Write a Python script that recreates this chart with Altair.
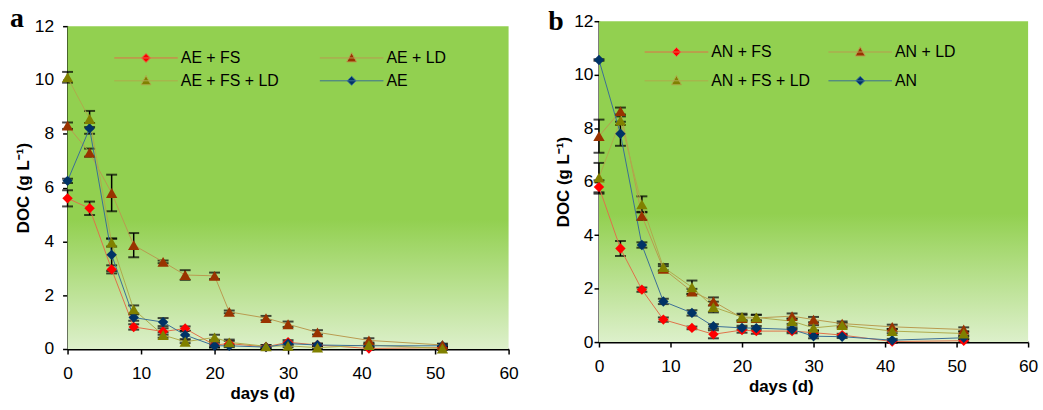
import altair as alt
import pandas as pd

days = [0, 3, 6, 9, 13, 16, 20, 22, 27, 30, 34, 41, 51]

# Panel a (aerobic)
ae_fs = [5.6, 5.23, 2.96, 0.82, 0.65, 0.76, 0.15, 0.2, 0.08, 0.25, 0.15, 0.02, 0.05]
ae_fs_err = [0.3, 0.25, 0.15, 0.1, 0.12, 0.08, 0.1, 0.1, 0.05, 0.08, 0.05, 0.05, 0.05]
ae_ld = [8.3, 7.3, 5.8, 3.86, 3.24, 2.75, 2.72, 1.38, 1.15, 0.92, 0.62, 0.32, 0.15]
ae_ld_err = [0.12, 0.15, 0.68, 0.45, 0.05, 0.18, 0.12, 0.05, 0.08, 0.1, 0.08, 0.08, 0.05]
ae_fs_ld = [10.1, 8.55, 3.96, 1.47, 0.52, 0.27, 0.43, 0.25, 0.1, 0.12, 0.05, 0.15, 0.02]
ae_fs_ld_err = [0.2, 0.3, 0.15, 0.15, 0.1, 0.05, 0.1, 0.1, 0.05, 0.05, 0.05, 0.05, 0.05]
ae = [6.25, 8.2, 3.5, 1.17, 1.0, 0.52, 0.12, 0.12, 0.07, 0.2, 0.15, 0.12, 0.12]
ae_err = [0.08, 0.2, 0.6, 0.12, 0.15, 0.15, 0.05, 0.05, 0.05, 0.05, 0.05, 0.05, 0.05]

# Panel b (anaerobic)
an_fs = [5.8, 3.5, 1.96, 0.84, 0.53, 0.29, 0.45, 0.41, 0.41, 0.35, 0.26, 0.02, 0.05]
an_fs_err = [0.25, 0.28, 0.08, 0.08, 0.05, 0.15, 0.1, 0.1, 0.08, 0.08, 0.05, 0.05, 0.05]
an_ld = [7.7, 8.64, 4.72, 2.74, 1.89, 1.52, 0.9, 0.9, 0.97, 0.84, 0.69, 0.57, 0.47]
an_ld_err = [0.62, 0.13, 0.15, 0.1, 0.1, 0.15, 0.12, 0.12, 0.1, 0.1, 0.08, 0.08, 0.08]
an_fs_ld = [6.15, 8.28, 5.15, 2.8, 2.05, 1.31, 0.94, 0.92, 0.78, 0.53, 0.63, 0.41, 0.32]
an_fs_ld_err = [0.55, 0.16, 0.3, 0.12, 0.25, 0.2, 0.12, 0.1, 0.1, 0.1, 0.08, 0.08, 0.08]
an = [10.55, 7.79, 3.63, 1.52, 1.09, 0.59, 0.53, 0.52, 0.47, 0.22, 0.2, 0.07, 0.16]
an_err = [0.03, 0.45, 0.1, 0.1, 0.1, 0.08, 0.08, 0.08, 0.08, 0.08, 0.05, 0.05, 0.05]

x_ticks = [0, 10, 20, 30, 40, 50, 60]
y_ticks = [0, 2, 4, 6, 8, 10, 12]

# styles in series order: X+FS, X+LD, X+FS+LD, X
marker_colors = ["#FF0000", "#993300", "#808000", "#003366"]
line_colors = ["#E0704A", "#B89A50", "#AEAA4C", "#3A6E96"]
DIAMOND = "M-6.4,0L6.4,0M0,-0.9L0.9,0L0,0.9L-0.9,0Z"
TRIANGLE = "M-6.4,0L6.4,0M0,-1.05L1.0,0.8L-1.0,0.8Z"
shape_paths = [DIAMOND, TRIANGLE, TRIANGLE, DIAMOND]
# legend fills column by column: order so rows read X+FS | X+LD, X+FS+LD | X
legend_order = [0, 2, 1, 3]

FONT = "Liberation Sans"
VIEW_H = 330


def make_df(names, vals, errs):
    rows = []
    for name, v, e in zip(names, vals, errs):
        for d, y, er in zip(days, v, e):
            rows.append({"day": d, "doc": y, "lo": y - er, "hi": y + er, "series": name})
    return pd.DataFrame(rows)


def panel(names, vals, errs, letter, W, y_top, y_bot, leg_x, leg_y, col_pad, row_pad,
          lab_pad, title_pad, xtitle_x, letter_dx, letter_y):
    df = make_df(names, vals, errs)
    diamonds = [names[0], names[3]]
    triangles = [names[1], names[2]]

    dom = [names[i] for i in legend_order]
    fill_scale = alt.Scale(domain=dom, range=[marker_colors[i] for i in legend_order])
    stroke_scale = alt.Scale(domain=dom, range=[line_colors[i] for i in legend_order])
    shape_scale = alt.Scale(domain=dom, range=[shape_paths[i] for i in legend_order])
    leg = alt.Legend(
        title=None, orient="none", legendX=leg_x, legendY=leg_y, columns=2,
        columnPadding=col_pad, rowPadding=row_pad, symbolSize=100,
        symbolOffset=27, symbolStrokeWidth=1, labelFont=FONT, labelFontSize=16,
        labelColor="black", labelOffset=27, padding=0, symbolOpacity=1,
    )

    xs = alt.Scale(domain=[0, 60], nice=False, zero=False)
    ys = alt.Scale(domain=[0, 12], nice=False, range=[y_bot, y_top])
    x_enc = alt.X("day:Q", scale=xs, axis=alt.Axis(
        values=x_ticks, title="days (d)", grid=False, labelFlush=False,
        titleX=xtitle_x, titleAlign="center", titlePadding=3, labelPadding=11,
        offset=y_bot - VIEW_H))
    y_enc = alt.Y("doc:Q", scale=ys, axis=alt.Axis(
        values=y_ticks, title="DOC (g L⁻¹)", grid=False, labelFlush=False,
        labelPadding=lab_pad, titlePadding=title_pad))

    base = alt.Chart(df)
    one = pd.DataFrame({"letter": [letter]})

    bg = alt.Chart(one).mark_rect(
        fill=alt.LinearGradient(
            gradient="linear", x1=0, x2=0, y1=0, y2=1,
            stops=[alt.GradientStop(color="#92D050", offset=0),
                   alt.GradientStop(color="#92D050", offset=0.6),
                   alt.GradientStop(color="#DDF0CB", offset=1)]),
    ).encode(x=alt.datum(0, scale=xs), x2=alt.datum(60),
             y=alt.datum(12, scale=ys), y2=alt.datum(0))

    tag = alt.Chart(one).mark_text(
        font="Liberation Serif", fontSize=28, fontWeight="bold", color="black",
        align="left", baseline="alphabetic",
    ).encode(text="letter:N", x=alt.value(letter_dx), y=alt.value(letter_y))

    lines = base.mark_line(strokeWidth=1).encode(
        x=x_enc, y=y_enc,
        stroke=alt.Stroke("series:N", scale=stroke_scale, legend=leg),
        order="day:Q",
    )
    rules = base.mark_rule(color="black", strokeWidth=1.5).encode(
        x="day:Q", y="lo:Q", y2="hi:Q")
    cap_lo = base.mark_tick(color="black", orient="horizontal", size=11,
                            thickness=2).encode(x="day:Q", y="lo:Q")
    cap_hi = base.mark_tick(color="black", orient="horizontal", size=11,
                            thickness=2).encode(x="day:Q", y="hi:Q")
    pts_d = base.transform_filter(
        alt.FieldOneOfPredicate(field="series", oneOf=diamonds)
    ).mark_point(shape="diamond", filled=True, size=110, opacity=1).encode(
        x="day:Q", y="doc:Q",
        fill=alt.Fill("series:N", scale=fill_scale, legend=leg))
    pts_t = base.transform_filter(
        alt.FieldOneOfPredicate(field="series", oneOf=triangles)
    ).mark_point(shape="triangle-up", filled=True, size=130, opacity=1).encode(
        x="day:Q", y="doc:Q",
        fill=alt.Fill("series:N", scale=fill_scale, legend=leg))
    legend_layer = base.transform_filter("false").mark_point(
        filled=True, opacity=1, size=100, strokeWidth=1).encode(
        x="day:Q", y="doc:Q",
        fill=alt.Fill("series:N", scale=fill_scale, legend=leg),
        stroke=alt.Stroke("series:N", scale=stroke_scale, legend=leg),
        shape=alt.Shape("series:N", scale=shape_scale, legend=leg),
    )

    return alt.layer(lines, bg, rules, cap_lo, cap_hi, lines, pts_d, pts_t,
                     legend_layer, tag).properties(width=W, height=VIEW_H)


pa = panel(["AE + FS", "AE + LD", "AE + FS + LD", "AE"],
           [ae_fs, ae_ld, ae_fs_ld, ae], [ae_fs_err, ae_ld_err, ae_fs_ld_err, ae_err],
           "a", 444, 5, 330, 44, 29, 38, 7, 9, 2, 196, -58, 6)
pb = panel(["AN + FS", "AN + LD", "AN + FS + LD", "AN"],
           [an_fs, an_ld, an_fs_ld, an], [an_fs_err, an_ld_err, an_fs_ld_err, an_err],
           "b", 432, 0, 323, 43, 23, 15, 13, 1, 1, 183, -51, 9)

chart = alt.hconcat(pa, pb, spacing=30).resolve_scale(
    fill="independent", stroke="independent", shape="independent",
    x="independent", y="independent",
).resolve_legend(
    fill="independent", stroke="independent", shape="independent",
).properties(
    padding={"left": 10, "top": 4, "right": 5, "bottom": 0},
    background="white",
).configure_view(stroke=None).configure_axis(
    labelFont=FONT, labelFontSize=17.5, labelColor="black",
    titleFont=FONT, titleFontSize=17, titleFontWeight="bold", titleColor="black",
    domainColor="black", domainWidth=2, tickColor="black", tickSize=5, tickWidth=1.5,
)

chart.save("out.html", embed_options={"renderer": "svg", "actions": False})
